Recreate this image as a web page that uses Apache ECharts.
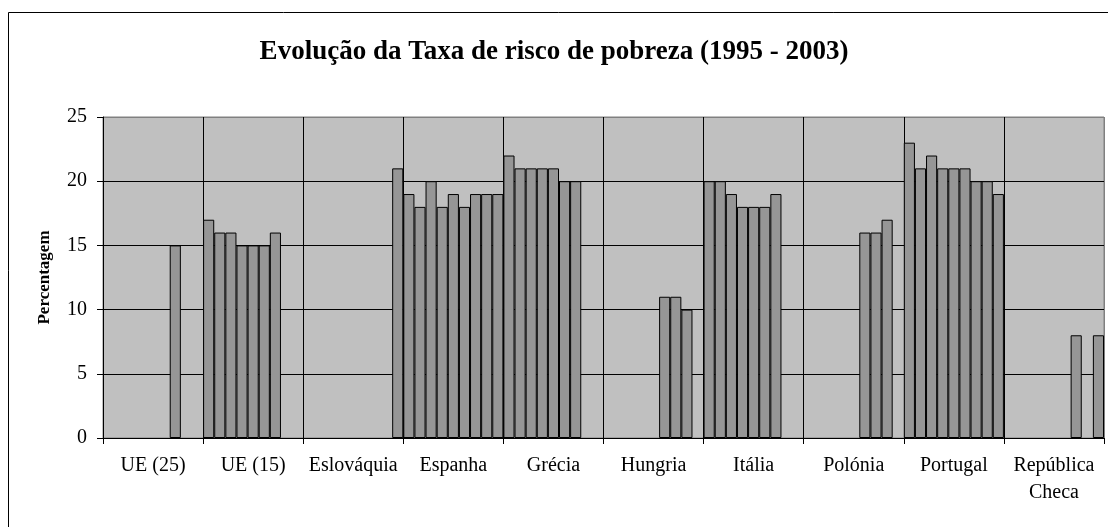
<!DOCTYPE html>
<html>
<head>
<meta charset="utf-8">
<script src="https://cdn.jsdelivr.net/npm/echarts@6/dist/echarts.min.js"></script>
<style>
  html, body { margin: 0; padding: 0; background: #fff; }
  #chart { width: 1108px; height: 527px; }
</style>
</head>
<body>
<div id="chart"></div>
<script>
const years = ['1995', '1996', '1997', '1998', '1999', '2000', '2001', '2002', '2003'];
const countries = ['UE (25)', 'UE (15)', 'Eslováquia', 'Espanha', 'Grécia', 'Hungria', 'Itália', 'Polónia', 'Portugal', 'República Checa'];

// one value per year, 1995..2003 (null = no data)
const ue25 = [null, null, null, null, null, null, 15, null, null];
const ue15 = [17, 16, 16, 15, 15, 15, 16, null, null];
const eslovaquia = [null, null, null, null, null, null, null, null, 21];
const espanha = [19, 18, 20, 18, 19, 18, 19, 19, 19];
const grecia = [22, 21, 21, 21, 21, 20, 20, null, null];
const hungria = [null, null, null, null, null, 11, 11, 10, null];
const italia = [20, 20, 19, 18, 18, 18, 19, null, null];
const polonia = [null, null, null, null, null, 16, 16, 17, null];
const portugal = [23, 21, 22, 21, 21, 21, 20, 20, 19];
const repCheca = [null, null, null, null, null, null, 8, null, 8];

const yTicks = [0, 5, 10, 15, 20, 25];

const byCountry = [ue25, ue15, eslovaquia, espanha, grecia, hungria, italia, polonia, portugal, repCheca];

const chart = echarts.init(document.getElementById('chart'), null, { renderer: 'canvas' });

const serif = '"Liberation Serif", "Times New Roman", serif';

// last grid line sits on the plot border, which is grey in the original
const hLineColors = yTicks.map((t, i) => i === yTicks.length - 1 ? '#808080' : '#000');
const vLineColors = countries.concat(['end']).map((c, i) => i === countries.length ? '#808080' : '#000');

chart.setOption({
  animation: false,
  backgroundColor: '#fff',
  title: {
    text: 'Evolução da Taxa de risco de pobreza (1995 - 2003)',
    left: 'center',
    top: 34,
    textStyle: { fontFamily: serif, fontWeight: 'bold', fontSize: 27, color: '#000' }
  },
  graphic: [{
    type: 'rect',
    shape: { x: 8.5, y: 12.5, width: 1200, height: 600 },
    style: { fill: 'none', stroke: '#000', lineWidth: 1 },
    z: -1
  }],
  grid: {
    left: 103, right: 4, top: 117, bottom: 89,
    show: true,
    backgroundColor: '#C0C0C0',
    borderColor: '#808080',
    borderWidth: 1
  },
  xAxis: {
    type: 'category',
    data: countries,
    axisLine: { lineStyle: { color: '#000', width: 1 } },
    axisTick: { show: true, length: 6, lineStyle: { color: '#000' } },
    splitLine: { show: true, lineStyle: { color: vLineColors, width: 1 } },
    axisLabel: {
      fontFamily: serif, fontSize: 20, color: '#000',
      margin: 14, lineHeight: 27, interval: 0,
      formatter: v => v.replace('República ', 'República\n')
    }
  },
  yAxis: {
    type: 'value',
    min: yTicks[0],
    max: yTicks[yTicks.length - 1],
    interval: 5,
    name: 'Percentagem',
    nameLocation: 'middle',
    nameGap: 50,
    nameTextStyle: { fontFamily: serif, fontWeight: 'bold', fontSize: 17, color: '#000' },
    axisLine: { show: true, lineStyle: { color: '#000', width: 1 } },
    axisTick: { show: true, length: 6, lineStyle: { color: '#000' } },
    splitLine: { show: true, lineStyle: { color: hLineColors, width: 1 } },
    axisLabel: { fontFamily: serif, fontSize: 20, color: '#000', margin: 16 }
  },
  series: years.map((y, i) => ({
    name: y,
    type: 'bar',
    data: byCountry.map(c => c[i]),
    barGap: '0%',
    barCategoryGap: '0%',
    itemStyle: { color: '#969696', borderColor: '#000', borderWidth: 1 }
  }))
});
</script>
</body>
</html>
